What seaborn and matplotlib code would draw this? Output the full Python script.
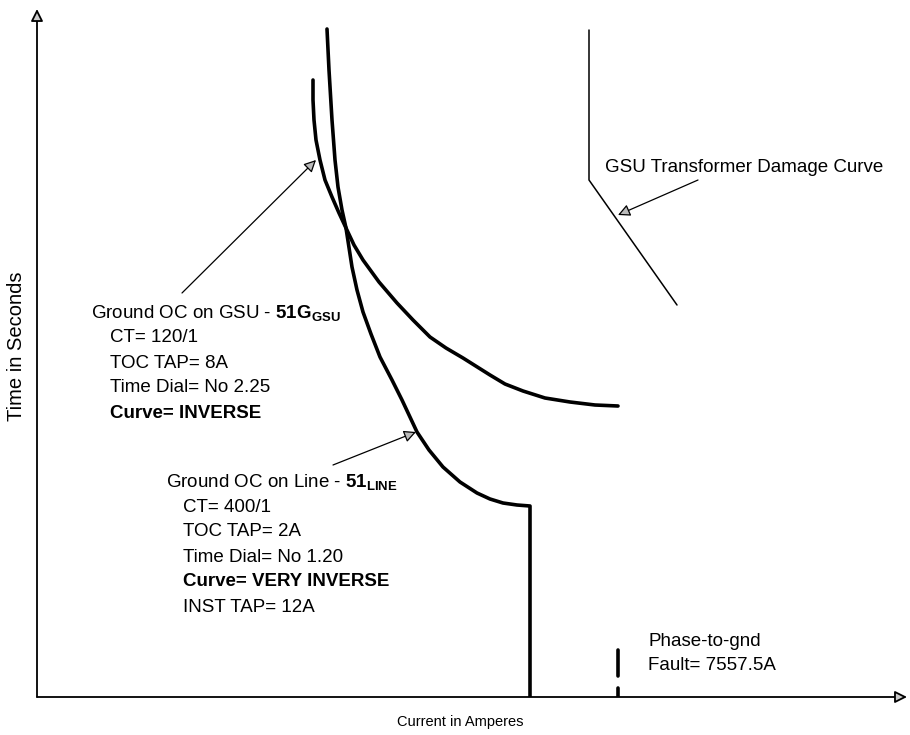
import matplotlib
matplotlib.use('Agg')
import matplotlib.pyplot as plt
import seaborn as sns
import pandas as pd

sns.set_theme(style='white')
plt.rcParams['font.family'] = ['Liberation Sans', 'DejaVu Sans']
plt.rcParams['text.color'] = 'black'
plt.rcParams['mathtext.fontset'] = 'custom'
plt.rcParams['mathtext.rm'] = 'Liberation Sans'
plt.rcParams['mathtext.bf'] = 'Liberation Sans:bold'

# Schematic coordinates (origin at the axes corner, arbitrary units)
gsu_x = [276, 276, 277, 279, 283, 288, 295, 302, 309, 317, 326, 342, 360, 376, 393, 409,
         426, 453, 468, 486, 508, 533, 558, 581]
gsu_y = [617, 597, 577, 557, 537, 517, 500, 484, 469, 452, 437, 415, 394, 377, 360, 349,
         339, 322, 313, 306, 299, 295, 292, 291]

line_x = [290, 292, 295, 298, 301, 305, 309, 315, 320, 326, 334, 343, 355, 365, 380, 392,
          406, 423, 440, 453, 466, 480, 493, 493]
line_y = [668, 627, 577, 537, 510, 487, 469, 430, 407, 385, 363, 340, 317, 297, 265, 247,
          230, 215, 204, 198, 194, 192, 191, 0]

damage_x = [552, 552, 640]
damage_y = [667, 517, 392]

fault_x = 581
fault_seg1 = [47, 21]
fault_seg2 = [9, 0]

gsu_label = ['Ground OC on GSU - $\\mathbf{51G_{GSU}}$', 'CT= 120/1', 'TOC TAP= 8A',
             'Time Dial= No 2.25', 'Curve= INVERSE']
line_label = ['Ground OC on Line - $\\mathbf{51_{LINE}}$', 'CT= 400/1', 'TOC TAP= 2A',
              'Time Dial= No 1.20', 'Curve= VERY INVERSE', 'INST TAP= 12A']

fig = plt.figure(figsize=(9.1, 7.35), dpi=100)
ax = fig.add_axes([37 / 910, 38 / 735, 873 / 910, 697 / 735])
ax.set_xlim(0, 873)
ax.set_ylim(0, 697)
ax.axis('off')

df_gsu = pd.DataFrame({'x': gsu_x, 'y': gsu_y})
df_line = pd.DataFrame({'x': line_x, 'y': line_y})
df_dmg = pd.DataFrame({'x': damage_x, 'y': damage_y})
sns.lineplot(data=df_gsu, x='x', y='y', sort=False, estimator=None, color='black', lw=2.6, ax=ax)
sns.lineplot(data=df_line, x='x', y='y', sort=False, estimator=None, color='black', lw=2.6, ax=ax)
sns.lineplot(data=df_dmg, x='x', y='y', sort=False, estimator=None, color='black', lw=1.1, ax=ax)
ax.plot([fault_x, fault_x], fault_seg1, color='black', lw=2.6, solid_capstyle='round')
ax.plot([fault_x, fault_x], fault_seg2, color='black', lw=2.6)

# axes with arrows
axis_kw = dict(arrowstyle='-|>', color='#444444', fc='#cccccc', ec='black',
               lw=1.3, mutation_scale=18, shrinkA=0, shrinkB=0)
ax.annotate('', xy=(0, 688), xytext=(0, 0), arrowprops=axis_kw, annotation_clip=False)
ax.annotate('', xy=(870, 0), xytext=(0, 0), arrowprops=axis_kw, annotation_clip=False)

arrow_kw = dict(arrowstyle='-|>', fc='#bbbbbb', ec='black', lw=0.9,
                mutation_scale=18, shrinkA=0, shrinkB=0)
ax.annotate('', xy=(279, 537), xytext=(145, 404), arrowprops=arrow_kw)
ax.annotate('', xy=(379, 265), xytext=(296, 232), arrowprops=arrow_kw)
ax.annotate('', xy=(581, 482), xytext=(661, 517), arrowprops=arrow_kw)

fs = 13.5
ax.text(54, 384, gsu_label[0], fontsize=fs, va='center')
for i, t in enumerate(gsu_label[1:]):
    ax.text(73, 359 - 25 * i, t, fontsize=fs, va='center',
            fontweight='bold' if t.startswith('Curve') else 'normal')

ax.text(129, 215, line_label[0], fontsize=fs, va='center')
for i, t in enumerate(line_label[1:]):
    ax.text(146, 190 - 25 * i, t, fontsize=fs, va='center',
            fontweight='bold' if t.startswith('Curve') else 'normal')

ax.text(568, 530, 'GSU Transformer Damage Curve', fontsize=fs, va='center')
ax.text(611, 55, 'Phase-to-gnd', fontsize=fs, va='center')
ax.text(611, 31, 'Fault= 7557.5A', fontsize=fs, va='center')

ax.text(423, -25, 'Current in Amperes', fontsize=10.5, ha='center', va='center')
ax.text(-20, 351, 'Time in Seconds', fontsize=14.5, ha='center', va='center', rotation=90)

fig.savefig('out.png', dpi=100)
